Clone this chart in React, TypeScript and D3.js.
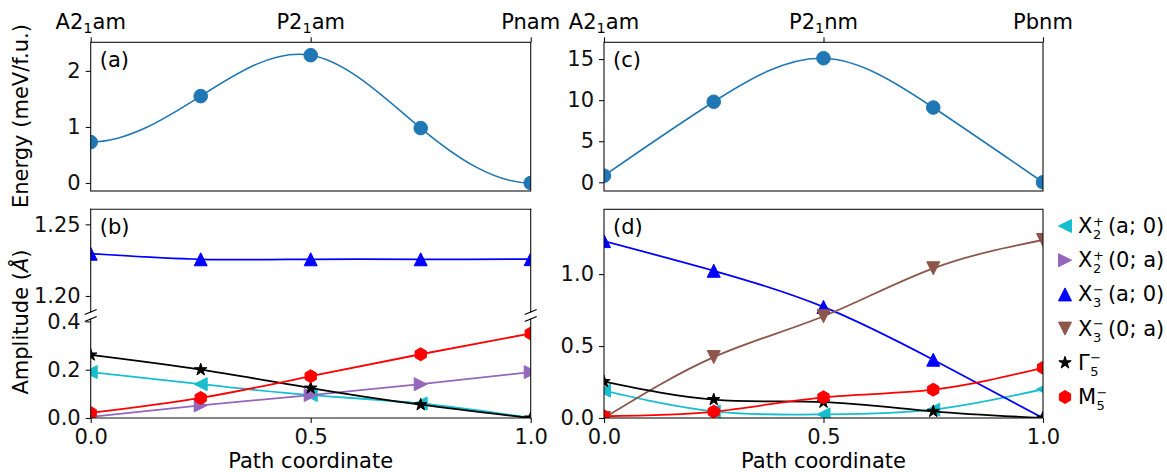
import React, { useRef, useEffect } from "react";
import * as d3 from "d3";

const W = 1167;
const H = 472;
const FONT = "DejaVu Sans";
const FS = 21;

// path coordinate of the five images
const pathX = [0, 0.25, 0.5, 0.75, 1.0];

// (a) energy along A2_1am -> P2_1am -> Pnam (meV/f.u.)
const energyA = [0.73, 1.55, 2.28, 0.98, 0.0];
// (c) energy along A2_1am -> P2_1nm -> Pbnm (meV/f.u.)
const energyC = [0.8, 9.8, 15.1, 9.1, 0.0];

// top tick labels: [main, subscript, rest]
const topTicks = [0, 0.5, 1];
const topLabelsA = [["A2", "1", "am"], ["P2", "1", "am"], ["Pnam", "", ""]];
const topLabelsC = [["A2", "1", "am"], ["P2", "1", "nm"], ["Pbnm", "", ""]];

// (b) mode amplitudes (Å)
const bX2pA = [0.19, 0.14, 0.095, 0.06, 0.0];
const bX2p0 = [0.005, 0.052, 0.095, 0.14, 0.19];
const bX3mA = [1.2295, 1.2256, 1.2256, 1.2256, 1.2257];
const bGamma = [0.261, 0.2, 0.124, 0.055, 0.0];
const bM5 = [0.021, 0.083, 0.173, 0.264, 0.35];

// (d) mode amplitudes (Å)
const dX2pA = [0.19, 0.046, 0.025, 0.058, 0.2];
const dX3mA = [1.229, 1.023, 0.772, 0.405, 0.0];
const dX3m0 = [0.0, 0.423, 0.707, 1.04, 1.237];
const dGamma = [0.253, 0.128, 0.11, 0.046, 0.0];
const dM5 = [0.012, 0.044, 0.144, 0.197, 0.349];

// legend entries
const legendBase = ["X", "X", "X", "X", "Γ", "M"];
const legendSub = ["2", "2", "3", "3", "5", "5"];
const legendSup = ["+", "+", "−", "−", "−", "−"];
const legendTail = ["(a; 0)", "(0; a)", "(a; 0)", "(0; a)", "", ""];
const seriesColors = ["#17becf", "#9467bd", "#0000ff", "#8c564b", "#000000", "#ff0000"];
const seriesMarkers = ["left", "right", "up", "down", "star", "hexagon"];

const xTicks = [0, 0.5, 1.0];

// cubic spline with zero slope at both ends
const clampedSpline = (context) => {
  let xs = [];
  let ys = [];
  return {
    areaStart() {},
    areaEnd() {},
    lineStart() {
      xs = [];
      ys = [];
    },
    point(x, y) {
      xs.push(+x);
      ys.push(+y);
    },
    lineEnd() {
      const n = xs.length;
      if (!n) return;
      context.moveTo(xs[0], ys[0]);
      if (n < 2) return;
      const h = d3.range(n - 1).map((i) => xs[i + 1] - xs[i]);
      const s = d3.range(n - 1).map((i) => (ys[i + 1] - ys[i]) / h[i]);
      const k = new Array(n).fill(0);
      const m = n - 2;
      if (m > 0) {
        const a = [], b = [], c = [], r = [];
        for (let j = 0; j < m; j++) {
          const i = j + 1;
          a.push(1 / h[i - 1]);
          b.push(2 * (1 / h[i - 1] + 1 / h[i]));
          c.push(1 / h[i]);
          r.push(3 * (s[i - 1] / h[i - 1] + s[i] / h[i]));
        }
        for (let j = 1; j < m; j++) {
          const w = a[j] / b[j - 1];
          b[j] -= w * c[j - 1];
          r[j] -= w * r[j - 1];
        }
        k[m] = r[m - 1] / b[m - 1];
        for (let j = m - 2; j >= 0; j--) k[j + 1] = (r[j] - c[j] * k[j + 2]) / b[j];
      }
      for (let i = 0; i < n - 1; i++) {
        const dx = h[i] / 3;
        context.bezierCurveTo(
          xs[i] + dx, ys[i] + k[i] * dx,
          xs[i + 1] - dx, ys[i + 1] - k[i + 1] * dx,
          xs[i + 1], ys[i + 1]
        );
      }
    },
  };
};

const markerPath = (kind, r) => {
  const poly = (pts) => "M" + pts.map((p) => p[0].toFixed(2) + "," + p[1].toFixed(2)).join("L") + "Z";
  if (kind === "up") return poly([[0, -r], [-r, r], [r, r]]);
  if (kind === "down") return poly([[0, r], [-r, -r], [r, -r]]);
  if (kind === "left") return poly([[-r, 0], [r, -r], [r, r]]);
  if (kind === "right") return poly([[r, 0], [-r, -r], [-r, r]]);
  if (kind === "hexagon") {
    return poly(d3.range(6).map((i) => {
      const t = -Math.PI / 2 + (i * Math.PI) / 3;
      return [r * Math.cos(t), r * Math.sin(t)];
    }));
  }
  if (kind === "star") {
    return poly(d3.range(10).map((i) => {
      const t = -Math.PI / 2 + (i * Math.PI) / 5;
      const rr = i % 2 ? r * 0.382 : r;
      return [rr * Math.cos(t), rr * Math.sin(t)];
    }));
  }
  return d3.symbol(d3.symbolCircle, Math.PI * r * r)();
};

const App = () => {
  const ref = useRef(null);

  useEffect(() => {
    const svg = d3.select(ref.current);
    svg.selectAll("*").remove();
    drawFigure(svg);
  }, []);

  const drawFigure = (svg) => {
    const defs = svg.append("defs");

    // axes boxes
    const boxA = { left: 90.7, right: 530.7, top: 42.3, bottom: 191 };
    const boxC = { left: 604, right: 1043, top: 42.3, bottom: 191 };
    const boxBu = { left: 90.7, right: 530.7, top: 209.3, bottom: 312 };
    const boxBl = { left: 90.7, right: 530.7, top: 319, bottom: 418 };
    const boxD = { left: 604, right: 1043, top: 209.3, bottom: 418 };

    const makeAxes = (id, box, yDomain) => {
      defs.append("clipPath").attr("id", id)
        .append("rect")
        .attr("x", box.left).attr("y", box.top)
        .attr("width", box.right - box.left).attr("height", box.bottom - box.top);
      const x = d3.scaleLinear().domain([0, 1]).range([box.left, box.right]);
      const y = d3.scaleLinear().domain(yDomain).range([box.bottom, box.top]);
      const plot = svg.append("g").attr("clip-path", `url(#${id})`);
      return { x, y, plot, box };
    };

    const axA = makeAxes("clip-a", boxA, [-0.143, 2.51]);
    const axC = makeAxes("clip-c", boxC, [-1.06, 17.04]);
    const axBu = makeAxes("clip-bu", boxBu, [1.1888, 1.2605]);
    const axBl = makeAxes("clip-bl", boxBl, [0, 0.41]);
    const axD = makeAxes("clip-d", boxD, [0, 1.45]);

    const drawSeries = (ax, values, color, marker, curve, lw) => {
      const pts = pathX.map((px, i) => [px, values[i]]);
      const line = d3.line().x((d) => ax.x(d[0])).y((d) => ax.y(d[1])).curve(curve);
      ax.plot.append("path").datum(pts)
        .attr("d", line)
        .attr("fill", "none")
        .attr("stroke", color)
        .attr("stroke-width", lw);
      ax.plot.append("g").selectAll("path").data(pts).join("path")
        .attr("transform", (d) => `translate(${ax.x(d[0])},${ax.y(d[1])})`)
        .attr("d", markerPath(marker, marker === "circle" ? 6.8 : 6.5))
        .attr("fill", color)
        .attr("stroke", color)
        .attr("stroke-width", 1);
    };

    // energies
    drawSeries(axA, energyA, "#1f77b4", "circle", clampedSpline, 1.6);
    drawSeries(axC, energyC, "#1f77b4", "circle", d3.curveNatural, 1.6);

    // (b)
    drawSeries(axBl, bX2pA, seriesColors[0], seriesMarkers[0], d3.curveNatural, 1.8);
    drawSeries(axBl, bX2p0, seriesColors[1], seriesMarkers[1], d3.curveNatural, 1.8);
    drawSeries(axBu, bX3mA, seriesColors[2], seriesMarkers[2], d3.curveNatural, 1.8);
    drawSeries(axBl, bGamma, seriesColors[4], seriesMarkers[4], d3.curveNatural, 1.8);
    drawSeries(axBl, bM5, seriesColors[5], seriesMarkers[5], d3.curveNatural, 1.8);

    // (d)
    drawSeries(axD, dX2pA, seriesColors[0], seriesMarkers[0], d3.curveNatural, 1.8);
    drawSeries(axD, dX3mA, seriesColors[2], seriesMarkers[2], d3.curveNatural, 1.8);
    drawSeries(axD, dX3m0, seriesColors[3], seriesMarkers[3], d3.curveNatural, 1.8);
    drawSeries(axD, dGamma, seriesColors[4], seriesMarkers[4], d3.curveNatural, 1.8);
    drawSeries(axD, dM5, seriesColors[5], seriesMarkers[5], d3.curveNatural, 1.8);

    // axes
    const styleAxis = (g) => {
      g.select(".domain").remove();
      g.attr("font-family", FONT).attr("font-size", FS).attr("color", "#111");
      g.selectAll("line").attr("stroke-width", 1.1);
    };

    const yAxis = (ax, ticks, fmt) => {
      svg.append("g")
        .attr("transform", `translate(${ax.box.left},0)`)
        .call(d3.axisLeft(ax.y).tickValues(ticks).tickFormat(fmt).tickSize(5).tickPadding(5))
        .call(styleAxis);
    };
    yAxis(axA, [0, 1, 2], d3.format("d"));
    yAxis(axC, [0, 5, 10, 15], d3.format("d"));
    yAxis(axBu, [1.2, 1.25], d3.format(".2f"));
    yAxis(axBl, [0, 0.2, 0.4], d3.format(".1f"));
    yAxis(axD, [0, 0.5, 1.0], d3.format(".1f"));

    const xAxis = (ax) => {
      svg.append("g")
        .attr("transform", `translate(0,${ax.box.bottom})`)
        .call(d3.axisBottom(ax.x).tickValues(xTicks).tickFormat(d3.format(".1f")).tickSize(5).tickPadding(6))
        .call(styleAxis);
      svg.append("text")
        .attr("x", (ax.box.left + ax.box.right) / 2)
        .attr("y", 468)
        .attr("text-anchor", "middle")
        .attr("font-family", FONT)
        .attr("font-size", FS)
        .text("Path coordinate");
    };
    xAxis(axBl);
    xAxis(axD);

    const topAxis = (ax, labels) => {
      svg.append("g")
        .attr("transform", `translate(0,${ax.box.top})`)
        .call(d3.axisTop(ax.x).tickValues(topTicks).tickFormat(() => "").tickSize(5))
        .call(styleAxis);
      topTicks.forEach((t, i) => {
        const [main, sub, rest] = labels[i];
        const txt = svg.append("text")
          .attr("x", ax.x(t))
          .attr("y", 29)
          .attr("text-anchor", "middle")
          .attr("font-family", FONT)
          .attr("font-size", FS);
        txt.append("tspan").text(main);
        if (sub) {
          txt.append("tspan").attr("dy", 4).attr("font-size", 14.5).text(sub);
          txt.append("tspan").attr("dy", -4).text(rest);
        }
      });
    };
    topAxis(axA, topLabelsA);
    topAxis(axC, topLabelsC);

    // spines
    const spine = (x1, y1, x2, y2) =>
      svg.append("line")
        .attr("x1", x1).attr("y1", y1).attr("x2", x2).attr("y2", y2)
        .attr("stroke", "#111").attr("stroke-width", 1.1)
        .attr("stroke-linecap", "square");
    [boxA, boxC, boxD].forEach((b) => {
      svg.append("rect")
        .attr("x", b.left).attr("y", b.top)
        .attr("width", b.right - b.left).attr("height", b.bottom - b.top)
        .attr("fill", "none").attr("stroke", "#111").attr("stroke-width", 1.1);
    });
    spine(boxBu.left, boxBu.top, boxBu.right, boxBu.top);
    spine(boxBu.left, boxBu.top, boxBu.left, boxBu.bottom);
    spine(boxBu.right, boxBu.top, boxBu.right, boxBu.bottom);
    spine(boxBl.left, boxBl.bottom, boxBl.right, boxBl.bottom);
    spine(boxBl.left, boxBl.top, boxBl.left, boxBl.bottom);
    spine(boxBl.right, boxBl.top, boxBl.right, boxBl.bottom);

    // break marks
    [boxBu.bottom, boxBl.top].forEach((yy) => {
      [boxBu.left, boxBu.right].forEach((xx) => {
        svg.append("line")
          .attr("x1", xx - 6).attr("y1", yy + 2.5)
          .attr("x2", xx + 6).attr("y2", yy - 2.5)
          .attr("stroke", "#000").attr("stroke-width", 1.3);
      });
    });

    // panel tags
    [[boxA, "(a)"], [boxBu, "(b)"], [boxC, "(c)"], [boxD, "(d)"]].forEach(([b, t]) => {
      svg.append("text")
        .attr("x", b.left + 9)
        .attr("y", b.top + 25)
        .attr("font-family", FONT)
        .attr("font-size", FS)
        .text(t);
    });

    // y labels
    svg.append("text")
      .attr("transform", "translate(28,116) rotate(-90)")
      .attr("text-anchor", "middle")
      .attr("font-family", FONT)
      .attr("font-size", FS)
      .text("Energy (meV/f.u.)");
    const amp = svg.append("text")
      .attr("transform", "translate(28,322) rotate(-90)")
      .attr("text-anchor", "middle")
      .attr("font-family", FONT)
      .attr("font-size", FS);
    amp.append("tspan").text("Amplitude (");
    amp.append("tspan").attr("font-style", "italic").text("Å");
    amp.append("tspan").text(")");

    // legend
    const baseW = { X: 14.4, "Γ": 11.7, M: 18.1 };
    legendBase.forEach((base, i) => {
      const cy = 226 + i * 34.2;
      svg.append("path")
        .attr("transform", `translate(1065,${cy})`)
        .attr("d", markerPath(seriesMarkers[i], 6.5))
        .attr("fill", seriesColors[i])
        .attr("stroke", seriesColors[i])
        .attr("stroke-width", 1);
      const tx = 1078;
      const g = svg.append("g").attr("font-family", FONT);
      g.append("text").attr("x", tx).attr("y", cy + 7).attr("font-size", FS).text(base);
      const sx = tx + baseW[base] + 0.5;
      g.append("text").attr("x", sx).attr("y", cy - 0.5).attr("font-size", 13).text(legendSup[i]);
      g.append("text").attr("x", sx).attr("y", cy + 13).attr("font-size", 13).text(legendSub[i]);
      if (legendTail[i]) {
        g.append("text").attr("x", sx + 15).attr("y", cy + 7).attr("font-size", FS).text(legendTail[i]);
      }
    });
  };

  return (
    <svg
      ref={ref}
      width={W}
      height={H}
      style={{ position: "absolute", left: 0, top: 0, background: "#fff" }}
    ></svg>
  );
};

export default App;
